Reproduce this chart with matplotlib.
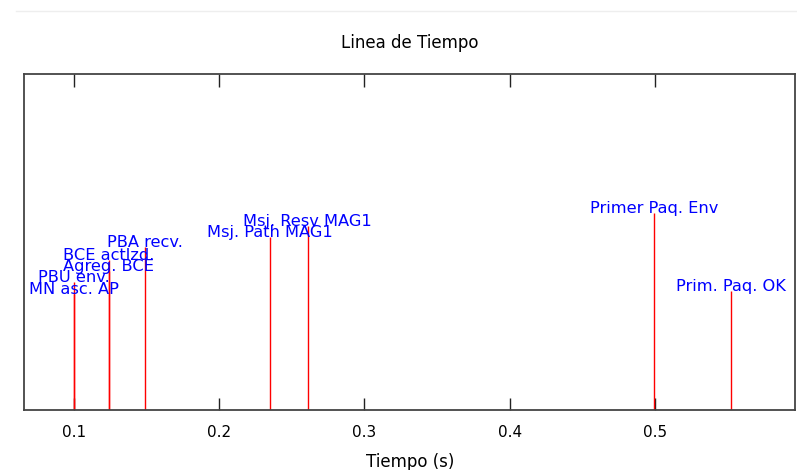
import matplotlib
matplotlib.use("Agg")
import matplotlib.pyplot as plt
from matplotlib.lines import Line2D

# Event data
events = ["MN asc. AP", "PBU env.", "Agreg. BCE", "BCE actlzd.", "PBA recv.",
          "Msj. Path MAG1", "Msj. Resv MAG1", "Primer Paq. Env", "Prim. Paq. OK"]
times = [0.100, 0.100, 0.124, 0.124, 0.149, 0.235, 0.261, 0.4995, 0.5525]
levels = [0.345, 0.381, 0.414, 0.446, 0.485, 0.515, 0.548, 0.585, 0.355]
xticks = [0.1, 0.2, 0.3, 0.4, 0.5]

fig = plt.figure(figsize=(7.97, 4.70), dpi=100)
ax = fig.add_axes([0.0307, 0.1277, 0.9673, 0.7149])

ax.vlines(times, 0, levels, color="red", linewidth=1.0, zorder=2)
for t, lv, name in zip(times, levels, events):
    ax.text(t, lv, name, color="blue", fontsize=11.7, ha="center", va="baseline", zorder=3)

ax.set_xlim(0.0658, 0.5968)
ax.set_ylim(0, 1)
ax.set_xticks(xticks)
ax.set_xticklabels([f"{v:.1f}" for v in xticks])
ax.set_yticks([])
ax.tick_params(axis="x", direction="in", top=True, length=9, width=1, color="#222222",
               labelsize=11, pad=11)
for s in ax.spines.values():
    s.set_color("#444444")
    s.set_linewidth(1.3)

ax.set_title("Linea de Tiempo", fontsize=12, pad=19)
ax.set_xlabel("Tiempo (s)", fontsize=12, labelpad=9)

fig.add_artist(Line2D([0.02, 1.0], [1 - 11/470, 1 - 11/470], color="#eeeeee", linewidth=1,
                      transform=fig.transFigure))

fig.savefig("out.png", dpi=100)
